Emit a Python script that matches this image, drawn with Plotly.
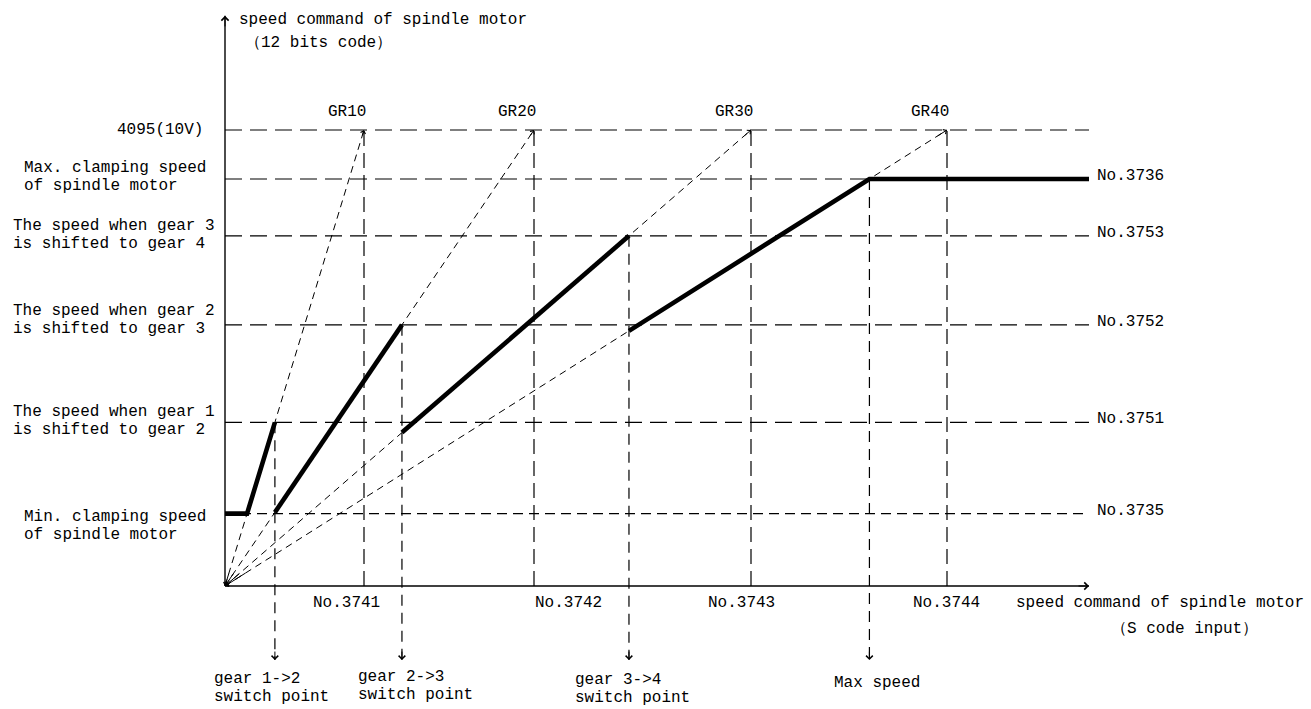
import plotly.graph_objects as go

# ---------------- data ----------------
gear_names = ["GR10", "GR20", "GR30", "GR40"]
gear_params = ["No.3741", "No.3742", "No.3743", "No.3744"]
gear_max_speed = [1390, 3090, 5260, 7220]          # S code reaching 4095 in each gear
full_scale = 4095
full_scale_label = "4095(10V)"
min_clamp = 650                                    # No.3735
shift_levels = [1470, 2345, 3145]                  # No.3751, No.3752, No.3753
max_clamp = 3655                                   # No.3736
level_params = ["No.3735", "No.3751", "No.3752", "No.3753", "No.3736"]
level_labels = [
    ["Min. clamping speed", "of spindle motor"],
    ["The speed when gear 1", "is shifted to gear 2"],
    ["The speed when gear 2", "is shifted to gear 3"],
    ["The speed when gear 3", "is shifted to gear 4"],
    ["Max. clamping speed", "of spindle motor"],
]
switch_labels = [["gear 1->2", "switch point"], ["gear 2->3", "switch point"],
                 ["gear 3->4", "switch point"], ["Max speed"]]
y_title = ["speed command of spindle motor", "（12 bits code）"]
x_title = ["speed command of spindle motor", "（S code input）"]
x_axis_end = 8640
y_axis_end = 5120
switch_arrow_end = -665

# ---------------- layout helpers (pixel geometry only) ----------------
W, H = 1311, 709
X0_PX, Y0_PX = 225, 586
PX_PER_X = 0.1
PX_PER_Y = 456 / full_scale
LINE_GAP = 18


def dx(px):
    return (px - X0_PX) / PX_PER_X


def dy(py):
    return (Y0_PX - py) / PX_PER_Y


FONT = dict(family="Liberation Mono, monospace", size=16, color="black")

levels = [min_clamp] + shift_levels + [max_clamp]

# switch points derived from the gear ratios and the shift levels
sw = [shift_levels[i] * gear_max_speed[i] / full_scale for i in range(3)]
sw.append(max_clamp * gear_max_speed[3] / full_scale)


def gear_y(i, s):
    return s * full_scale / gear_max_speed[i]


fig = go.Figure()
LW = 1.2

# horizontal dashed reference lines
for lv in [full_scale] + levels:
    dash = "10px,6px" if lv == min_clamp else "17px,8px"
    fig.add_trace(go.Scatter(x=[0, x_axis_end], y=[lv, lv], mode="lines",
                             line=dict(color="black", width=LW, dash=dash),
                             hoverinfo="skip"))

# vertical lines at gear max speed
for g in gear_max_speed:
    fig.add_trace(go.Scatter(x=[g, g], y=[0, full_scale], mode="lines",
                             line=dict(color="black", width=LW, dash="15px,7px"),
                             hoverinfo="skip"))

# switch point verticals
sw_top = shift_levels + [max_clamp]
for s, top in zip(sw, sw_top):
    fig.add_trace(go.Scatter(x=[s, s], y=[top, switch_arrow_end], mode="lines",
                             line=dict(color="black", width=LW, dash="11px,7px"),
                             hoverinfo="skip"))

# gear ratio lines from origin
for g in gear_max_speed:
    fig.add_trace(go.Scatter(x=[0, g], y=[0, full_scale], mode="lines",
                             line=dict(color="black", width=1, dash="7px,5px"),
                             hoverinfo="skip"))

# axes
fig.add_trace(go.Scatter(x=[0, x_axis_end], y=[0, 0], mode="lines",
                         line=dict(color="black", width=1.4), hoverinfo="skip"))
fig.add_trace(go.Scatter(x=[0, 0], y=[0, y_axis_end], mode="lines",
                         line=dict(color="black", width=1.4), hoverinfo="skip"))

# thick actual speed-command curve
px_, py_ = [0, min_clamp * gear_max_speed[0] / full_scale, sw[0]], [min_clamp, min_clamp, shift_levels[0]]
for i in range(1, 4):
    px_ += [None, sw[i - 1], sw[i]]
    py_ += [None, gear_y(i, sw[i - 1]), gear_y(i, sw[i])]
px_ += [x_axis_end]
py_ += [max_clamp]
fig.add_trace(go.Scatter(x=px_, y=py_, mode="lines",
                         line=dict(color="black", width=4.6), hoverinfo="skip"))

ann = []
arrow_style = dict(showarrow=True, arrowcolor="black", arrowhead=4, arrowwidth=1, text="")

# axis arrows
ann.append(dict(x=x_axis_end, y=0, ax=-12, ay=0, arrowsize=1.4, **arrow_style))
ann.append(dict(x=0, y=y_axis_end, ax=0, ay=12, arrowsize=1.4, **arrow_style))
# switch arrows
for s in sw:
    ann.append(dict(x=s, y=switch_arrow_end, ax=0, ay=-10, arrowsize=1.3, **arrow_style))
# gear line arrows at both ends
for g in gear_max_speed:
    ann.append(dict(x=g, y=full_scale, ax=g * 0.985, ay=full_scale * 0.985,
                    axref="x", ayref="y", arrowsize=1.0, **arrow_style))
    ann.append(dict(x=0, y=0, ax=g * 0.03, ay=full_scale * 0.03,
                    axref="x", ayref="y", arrowsize=1.0, **arrow_style))


def text_lines(x, y_top_px, lines, xanchor="left", xshift=0):
    for k, t in enumerate(lines):
        ann.append(dict(x=x, y=dy(y_top_px + k * LINE_GAP), text=t, showarrow=False,
                        xanchor=xanchor, yanchor="middle", xshift=xshift,
                        borderpad=0, font=FONT))


# top gear names and bottom parameter numbers
param_label_dx = [-18, 34, -10, -1]
for g, name, par, ddx in zip(gear_max_speed, gear_names, gear_params, param_label_dx):
    ann.append(dict(x=g, y=full_scale, text=name, showarrow=False, xanchor="right",
                    yanchor="middle", xshift=4, yshift=18, font=FONT))
    ann.append(dict(x=g, y=0, text=par, showarrow=False, xanchor="center",
                    yanchor="middle", xshift=ddx, yshift=-17, font=FONT))

# left labels
ann.append(dict(x=dx(205), y=full_scale, text=full_scale_label, showarrow=False,
                xanchor="right", yanchor="middle", font=FONT))
left_px = [23, 12, 12, 12, 23]
left_top_px = [517, 412, 311, 226, 168]
for lab, lx, ty in zip(level_labels, left_px, left_top_px):
    text_lines(dx(lx), ty, lab)

# right parameter labels
for lv, par in zip(levels, level_params):
    ann.append(dict(x=x_axis_end, y=lv, text=par, showarrow=False, xanchor="left",
                    yanchor="middle", xshift=6, yshift=3, font=FONT))

# switch labels
sw_dx = [-62, -45, -55, -36]
sw_top_px = [679, 677, 680, 683]
for s, lab, ddx, ty in zip(sw, switch_labels, sw_dx, sw_top_px):
    text_lines(s, ty, lab, xshift=ddx)

# axis titles
text_lines(dx(238), 20, y_title[:1])
text_lines(dx(244), 43, y_title[1:])
text_lines(dx(1015), 603, x_title[:1])
text_lines(dx(1184), 629, x_title[1:], xanchor="center")

fig.update_layout(
    width=W, height=H,
    margin=dict(l=0, r=0, t=0, b=0),
    paper_bgcolor="white", plot_bgcolor="white",
    showlegend=False,
    xaxis=dict(range=[dx(0), dx(W)], visible=False, fixedrange=True),
    yaxis=dict(range=[dy(H), dy(0)], visible=False, fixedrange=True),
    annotations=ann,
)

fig.write_html("out.html", config={"displayModeBar": False},
               post_script="document.body.style.margin='0';")
